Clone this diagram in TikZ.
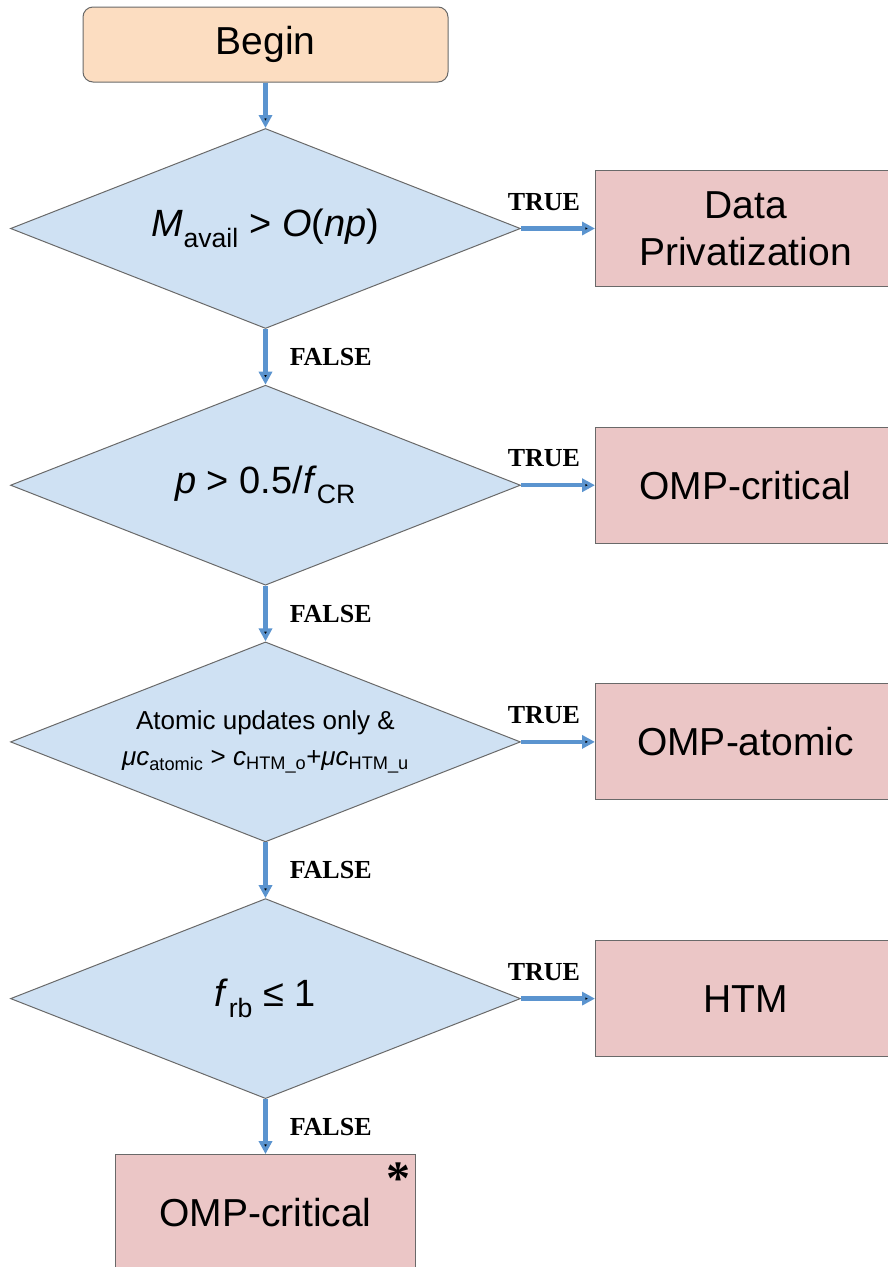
\documentclass[tikz,border=0pt]{standalone}
\usepackage{fontspec}
\setmainfont{Liberation Sans}
\newfontfamily\labelfont{Liberation Serif}
\usetikzlibrary{arrows.meta, shapes.geometric}

\definecolor{beginfill}{RGB}{252,221,193}
\definecolor{testfill}{RGB}{207,225,243}
\definecolor{actfill}{RGB}{235,198,198}
\definecolor{flowblue}{RGB}{91,148,207}
\definecolor{edgegray}{RGB}{105,105,105}

\begin{document}
\begin{tikzpicture}[x=1pt,y=-1pt,node distance=256.7pt,
  start node/.style={rectangle,rounded corners=10pt,draw=edgegray,line width=1pt,fill=beginfill,
    minimum width=365pt,minimum height=75pt,font=\fontsize{39}{44}\selectfont},
  test node/.style={diamond,shape aspect=2.55,draw=edgegray,line width=1pt,fill=testfill,inner sep=0pt,align=center,
    minimum width=510pt,minimum height=200pt,font=\fontsize{38}{42}\selectfont},
  act node/.style={rectangle,draw=edgegray,line width=1pt,fill=actfill,align=center,
    minimum width=300pt,minimum height=116pt,font=\fontsize{39}{47}\selectfont},
  flow/.style={draw=flowblue,line width=4.5pt,-{Triangle[length=13pt,width=13pt]}},
  true lbl/.style={inner sep=0pt,pos=0.31,above=16pt,font=\labelfont\bfseries\fontsize{26}{30}\selectfont},
  false lbl/.style={inner sep=0pt,right=22pt,font=\labelfont\bfseries\fontsize{26}{30}\selectfont}]
  \useasboundingbox (0,0) rectangle (888,1267);
  \clip (0,0) rectangle (888,1267);
  \node[start node] (begin) at (265.5,44.5) {Begin};
  \node[test node] (mem) at (265.5,228.5) {\textit{M}\textsubscript{avail} > \textit{O}(\textit{np})};
  \node[test node] (prob) [below of=mem] {\textit{p} > 0.5/\textit{f}\textsubscript{CR}};
  \node[test node,font=\fontsize{26}{36}\selectfont] (atom) [below of=prob]
    {Atomic updates only \&\\\textit{μc}\textsubscript{atomic} > \textit{c}\textsubscript{HTM\_o}+\textit{μc}\textsubscript{HTM\_u}};
  \node[test node] (rb) [below of=atom] {\textit{f}\textsubscript{rb} ≤ 1};
  \node[act node] (priv) [right of=mem,node distance=480pt] {Data\\Privatization};
  \node[act node] (crit) [right of=prob,node distance=480pt] {OMP-critical};
  \node[act node] (omp) [right of=atom,node distance=480pt] {OMP-atomic};
  \node[act node] (htm) [right of=rb,node distance=480pt] {HTM};
  \node[act node] (last) [below of=rb,node distance=214pt] {OMP-critical};
  \node[anchor=north east,inner sep=0pt,xshift=-5pt,yshift=-9pt,font=\labelfont\bfseries\fontsize{48}{48}\selectfont] (star) at (last.north east) {*};
  \path[flow]
     (begin) edge (mem)
     (mem) edge node[true lbl]{TRUE} (priv)
     (mem) edge node[false lbl]{FALSE} (prob)
     (prob) edge node[true lbl]{TRUE} (crit)
     (prob) edge node[false lbl]{FALSE} (atom)
     (atom) edge node[true lbl]{TRUE} (omp)
     (atom) edge node[false lbl]{FALSE} (rb)
     (rb) edge node[true lbl]{TRUE} (htm)
     (rb) edge node[false lbl]{FALSE} (last);
\end{tikzpicture}
\end{document}
